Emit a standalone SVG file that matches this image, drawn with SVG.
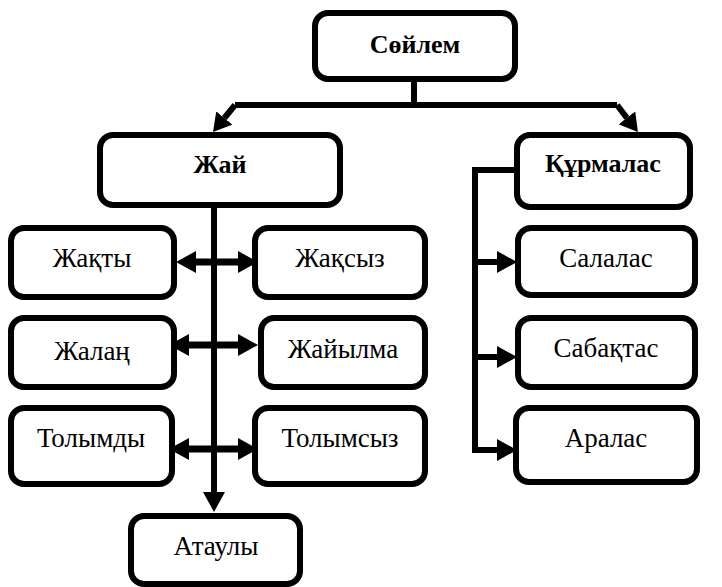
<svg xmlns="http://www.w3.org/2000/svg" width="722" height="587" viewBox="0 0 722 587">
<style>
.box{fill:#fff;stroke:#000;stroke-width:6}
.c{fill:none;stroke:#000;stroke-width:6;stroke-linejoin:miter}
.w{stroke-width:7}
</style>
<defs>
<marker id="ah" markerUnits="userSpaceOnUse" markerWidth="20" markerHeight="22" refX="0" refY="11" orient="auto-start-reverse" viewBox="0 0 20 22">
<path d="M0,0 L20,11 L0,22 z" fill="#000"/>
</marker>
<marker id="ah2" markerUnits="userSpaceOnUse" markerWidth="18" markerHeight="21" refX="0" refY="10.5" orient="auto" viewBox="0 0 18 21">
<path d="M0,0 L18,10.5 L0,21 z" fill="#000"/>
</marker>
</defs>
<rect width="722" height="587" fill="#fff"/>
<g id="connectors">
<path class="c" d="M414,82 V105"/>
<path class="c" d="M235,105 H617"/>
<path class="c" d="M235,105 L224.4,118" marker-end="url(#ah2)"/>
<path class="c" d="M617,105 L626.9,117.8" marker-end="url(#ah2)"/>
<path class="c" d="M214,208 V492" marker-end="url(#ah)"/>
<path class="c w" d="M196,262 H238" marker-start="url(#ah)" marker-end="url(#ah)"/>
<path class="c w" d="M189,345 H211" marker-start="url(#ah)"/>
<path class="c w" d="M216,345 H238" marker-end="url(#ah)"/>
<path class="c w" d="M189,449 H211" marker-start="url(#ah)"/>
<path class="c w" d="M216,449 H238" marker-end="url(#ah)"/>
<path class="c" d="M515,170 H475 V450 H497" marker-end="url(#ah)"/>
<path class="c" d="M475,262 H497" marker-end="url(#ah)"/>
<path class="c" d="M475,357 H497" marker-end="url(#ah)"/>
</g>
<g id="nodes" text-anchor="middle" fill="#000">
<g id="soylem"><rect class="box" x="315" y="13" width="200" height="66" rx="13"/><text font-family="Liberation Serif" font-weight="bold" font-size="26" x="415" y="53">Сөйлем</text></g>
<g id="zhai"><rect class="box" x="100" y="135" width="240" height="70" rx="13"/><text font-family="Liberation Serif" font-weight="bold" font-size="26" x="220" y="173">Жай</text></g>
<g id="kurmalas"><rect class="box" x="517" y="135" width="173" height="72" rx="13"/><text font-family="Liberation Serif" font-weight="bold" font-size="26" x="603" y="172">Құрмалас</text></g>
<g id="zhakty"><rect class="box" x="11" y="228" width="163" height="69" rx="13"/><text font-family="Liberation Serif" font-size="27" x="92" y="267">Жақты</text></g>
<g id="zhaksyz"><rect class="box" x="255" y="228" width="170" height="69" rx="13"/><text font-family="Liberation Serif" font-size="27" x="340" y="267">Жақсыз</text></g>
<g id="zhalan"><rect class="box" x="11" y="318" width="163" height="69" rx="13"/><text font-family="Liberation Serif" font-size="27" x="92" y="360">Жалаң</text></g>
<g id="zhaiylma"><rect class="box" x="261" y="318" width="164" height="69" rx="13"/><text font-family="Liberation Serif" font-size="27" x="343" y="358">Жайылма</text></g>
<g id="tolymdy"><rect class="box" x="11" y="408" width="161" height="76" rx="13"/><text font-family="Liberation Serif" font-size="27" x="91" y="447">Толымды</text></g>
<g id="tolymsyz"><rect class="box" x="255" y="408" width="170" height="76" rx="13"/><text font-family="Liberation Serif" font-size="27" x="340" y="447">Толымсыз</text></g>
<g id="atauly"><rect class="box" x="131" y="516" width="169" height="68" rx="13"/><text font-family="Liberation Serif" font-size="27" x="216" y="555">Атаулы</text></g>
<g id="salalas"><rect class="box" x="518" y="228" width="177" height="67" rx="13"/><text font-family="Liberation Serif" font-size="27" x="606" y="267">Салалас</text></g>
<g id="sabaktas"><rect class="box" x="518" y="318" width="177" height="69" rx="13"/><text font-family="Liberation Serif" font-size="27" x="606" y="357">Сабақтас</text></g>
<g id="aralas"><rect class="box" x="516" y="408" width="181" height="74" rx="13"/><text font-family="Liberation Serif" font-size="27" x="606" y="447">Аралас</text></g>
</g>
</svg>
